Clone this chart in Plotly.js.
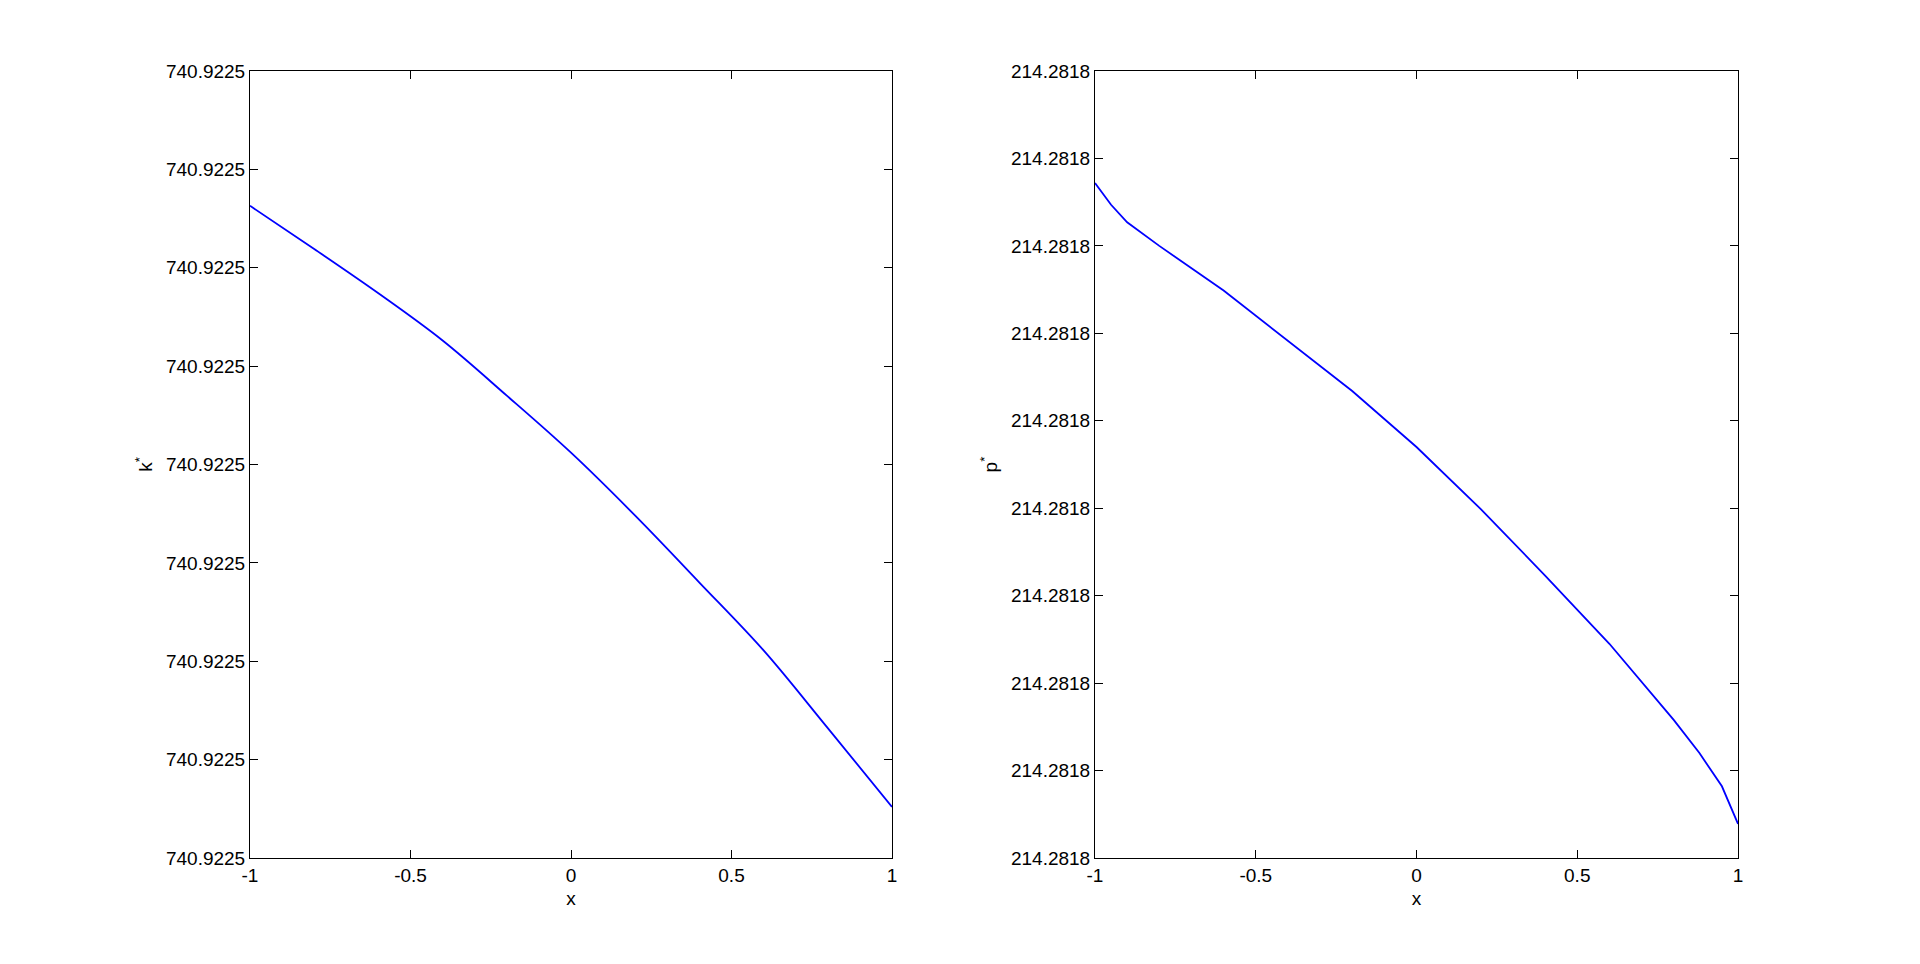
<!DOCTYPE html>
<html>
<head>
<meta charset="utf-8">
<script src="https://cdn.plot.ly/plotly-3.0.1.min.js"></script>
<style>html,body{margin:0;padding:0;background:#fff;}#chart{width:1920px;height:964px;}</style>
</head>
<body>
<div id="chart"></div>
<script>
// Left panel: k* versus x (y in tick-step units above the lowest tick)
var kX = [-1, -0.8, -0.6, -0.4, -0.2, 0, 0.2, 0.4, 0.6, 0.8, 1];
var kY = [6.63, 6.19, 5.74, 5.26, 4.70, 4.12, 3.48, 2.80, 2.11, 1.32, 0.52];
var kTickVals = [0, 1, 2, 3, 4, 5, 6, 7, 8];
var kTickText = ["740.9225","740.9225","740.9225","740.9225","740.9225","740.9225","740.9225","740.9225","740.9225"];

// Right panel: p* versus x
var pX = [-1, -0.95, -0.9, -0.8, -0.6, -0.4, -0.2, 0, 0.2, 0.4, 0.6, 0.8, 0.88, 0.95, 1];
var pY = [7.72, 7.47, 7.27, 7.00, 6.49, 5.91, 5.34, 4.70, 3.99, 3.23, 2.45, 1.58, 1.20, 0.82, 0.39];
var pTickVals = [0, 1, 2, 3, 4, 5, 6, 7, 8, 9];
var pTickText = ["214.2818","214.2818","214.2818","214.2818","214.2818","214.2818","214.2818","214.2818","214.2818","214.2818"];

var xTickVals = [-1, -0.5, 0, 0.5, 1];
var xTickText = ["-1", "-0.5", "0", "0.5", "1"];

var font = {family: "Liberation Sans, Arial, Helvetica, sans-serif", size: 19, color: "#000"};

var traces = [
  {x: kX, y: kY, type: "scatter", mode: "lines", line: {color: "#0000ff", width: 1.8, shape: "spline", smoothing: 1}, xaxis: "x", yaxis: "y", hoverinfo: "skip"},
  {x: pX, y: pY, type: "scatter", mode: "lines", line: {color: "#0000ff", width: 1.8}, xaxis: "x2", yaxis: "y2", hoverinfo: "skip"}
];

function xAxis(domain, anchor) {
  return {
    domain: domain, anchor: anchor, range: [-1, 1],
    tickmode: "array", tickvals: xTickVals, ticktext: xTickText,
    ticks: "inside", ticklen: 8, tickwidth: 1, tickcolor: "#000",
    showline: true, linecolor: "#000", linewidth: 1, mirror: "ticks",
    showgrid: false, zeroline: false, tickfont: font, automargin: false,
    title: {text: "x", font: font, standoff: 6}
  };
}
function yAxis(domain, anchor, rng, vals, text, title) {
  return {
    domain: domain, anchor: anchor, range: rng,
    tickmode: "array", tickvals: vals, ticktext: text,
    ticks: "inside", ticklen: 8, tickwidth: 1, tickcolor: "#000",
    showline: true, linecolor: "#000", linewidth: 1, mirror: "ticks",
    showgrid: false, zeroline: false, tickfont: font, automargin: false,
    title: {text: title, font: font, standoff: 8}
  };
}

var layout = {
  width: 1920, height: 964,
  margin: {l: 0, r: 0, t: 0, b: 0},
  paper_bgcolor: "#fff", plot_bgcolor: "#fff",
  showlegend: false,
  font: font,
  xaxis: xAxis([250/1920, 892/1920], "y"),
  yaxis: yAxis([1 - 858/964, 1 - 71/964], "x", [0, 8], kTickVals, kTickText, "k<sup>*</sup>"),
  xaxis2: xAxis([1095/1920, 1738/1920], "y2"),
  yaxis2: yAxis([1 - 858/964, 1 - 71/964], "x2", [0, 9], pTickVals, pTickText, "p<sup>*</sup>")
};

Plotly.newPlot("chart", traces, layout, {displayModeBar: false, staticPlot: true});
</script>
</body>
</html>
